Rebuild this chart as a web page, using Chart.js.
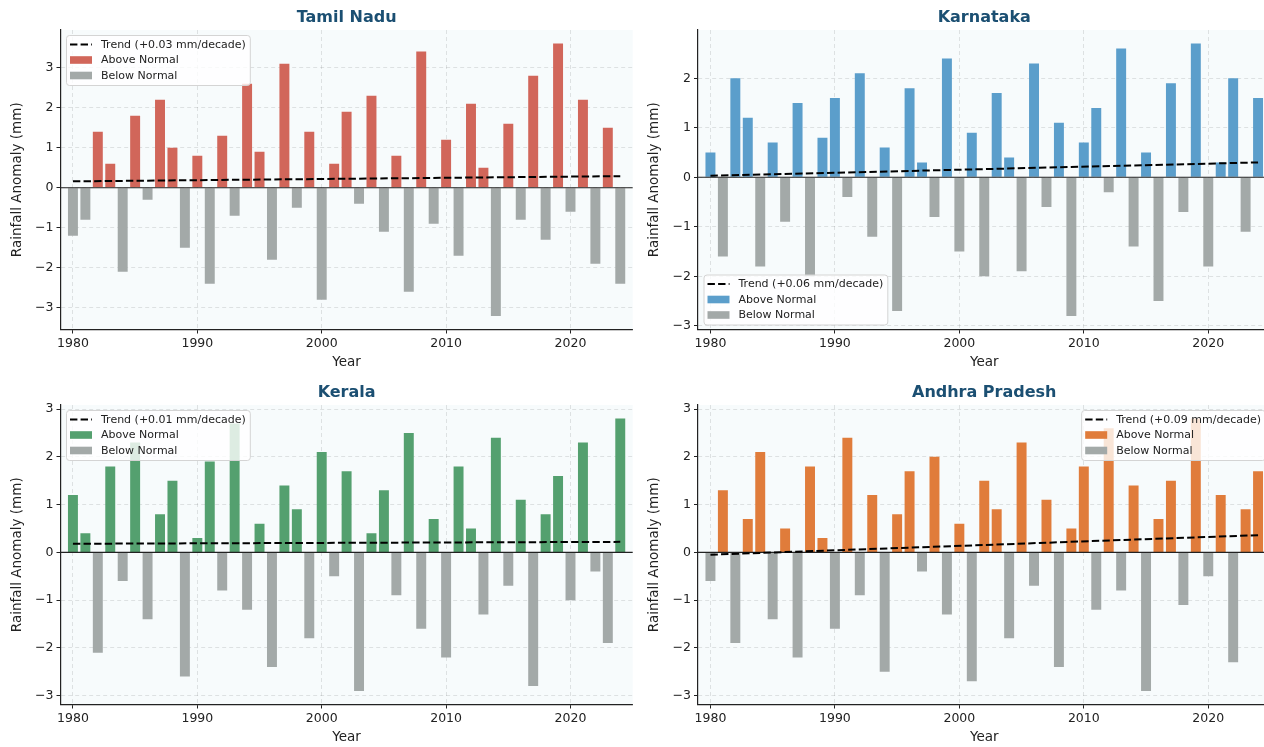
<!DOCTYPE html>
<html>
<head>
<meta charset="utf-8">
<title>Rainfall Anomaly - South India</title>
<script src="https://cdn.jsdelivr.net/npm/chart.js@4.4.1/dist/chart.umd.min.js"></script>
<style>
  html, body { margin: 0; padding: 0; background: #fff; overflow: hidden; width: 1264px; height: 747px; }
  .panel { position: absolute; width: 640px; height: 372px; }
</style>
</head>
<body>
<div class="panel" style="left:0;top:0"><canvas id="chart_TN" width="640" height="372"></canvas></div>
<div class="panel" style="left:637px;top:0"><canvas id="chart_KA" width="640" height="372"></canvas></div>
<div class="panel" style="left:0;top:375px"><canvas id="chart_KL" width="640" height="372"></canvas></div>
<div class="panel" style="left:637px;top:375px"><canvas id="chart_AP" width="640" height="372"></canvas></div>

<script>
/* ------------------
  data
-------------------*/
var years = [1980, 1981, 1982, 1983, 1984, 1985, 1986, 1987, 1988, 1989,
             1990, 1991, 1992, 1993, 1994, 1995, 1996, 1997, 1998, 1999,
             2000, 2001, 2002, 2003, 2004, 2005, 2006, 2007, 2008, 2009,
             2010, 2011, 2012, 2013, 2014, 2015, 2016, 2017, 2018, 2019,
             2020, 2021, 2022, 2023, 2024];
var xTicks = [1980, 1990, 2000, 2010, 2020];

var tamilNadu = [-1.2, -0.8, 1.4, 0.6, -2.1, 1.8, -0.3, 2.2, 1.0, -1.5,
                 0.8, -2.4, 1.3, -0.7, 2.6, 0.9, -1.8, 3.1, -0.5, 1.4,
                 -2.8, 0.6, 1.9, -0.4, 2.3, -1.1, 0.8, -2.6, 3.4, -0.9,
                 1.2, -1.7, 2.1, 0.5, -3.2, 1.6, -0.8, 2.8, -1.3, 3.6,
                 -0.6, 2.2, -1.9, 1.5, -2.4];
var karnataka = [0.5, -1.6, 2.0, 1.2, -1.8, 0.7, -0.9, 1.5, -2.0, 0.8,
                 1.6, -0.4, 2.1, -1.2, 0.6, -2.7, 1.8, 0.3, -0.8, 2.4,
                 -1.5, 0.9, -2.0, 1.7, 0.4, -1.9, 2.3, -0.6, 1.1, -2.8,
                 0.7, 1.4, -0.3, 2.6, -1.4, 0.5, -2.5, 1.9, -0.7, 2.7,
                 -1.8, 0.3, 2.0, -1.1, 1.6];
var kerala = [1.2, 0.4, -2.1, 1.8, -0.6, 2.3, -1.4, 0.8, 1.5, -2.6,
              0.3, 1.9, -0.8, 2.7, -1.2, 0.6, -2.4, 1.4, 0.9, -1.8,
              2.1, -0.5, 1.7, -2.9, 0.4, 1.3, -0.9, 2.5, -1.6, 0.7,
              -2.2, 1.8, 0.5, -1.3, 2.4, -0.7, 1.1, -2.8, 0.8, 1.6,
              -1.0, 2.3, -0.4, -1.9, 2.8];
var andhraPradesh = [-0.6, 1.3, -1.9, 0.7, 2.1, -1.4, 0.5, -2.2, 1.8, 0.3,
                     -1.6, 2.4, -0.9, 1.2, -2.5, 0.8, 1.7, -0.4, 2.0, -1.3,
                     0.6, -2.7, 1.5, 0.9, -1.8, 2.3, -0.7, 1.1, -2.4, 0.5,
                     1.8, -1.2, 2.6, -0.8, 1.4, -2.9, 0.7, 1.5, -1.1, 2.8,
                     -0.5, 1.2, -2.3, 0.9, 1.7];

// trend line ends (1980, 2024) and the slope written in the legend
var trendTN = [0.16, 0.29];
var trendKA = [0.03, 0.30];
var trendKL = [0.18, 0.22];
var trendAP = [-0.05, 0.36];
var slopeLabels = ['+0.03', '+0.06', '+0.01', '+0.09'];

var yTicksTN = [-3, -2, -1, 0, 1, 2, 3];
var yTicksKA = [-3, -2, -1, 0, 1, 2];
var yTicksKL = [-3, -2, -1, 0, 1, 2, 3];
var yTicksAP = [-3, -2, -1, 0, 1, 2, 3];

/* ------------------
  styles
-------------------*/
var FONT = "'DejaVu Sans', sans-serif";
var GRAY = '#a3a9a8';
var GRID = 'rgba(0, 0, 0, 0.13)';
var INK = '#222222';
Chart.defaults.font.family = FONT;

// background, zero line, title and the legend box drawn inside the plot
var panelDeco = {
  id: 'panelDeco',
  beforeDraw: function (chart) {
    var a = chart.chartArea, ctx = chart.ctx;
    ctx.save();
    ctx.fillStyle = '#f7fbfc';
    ctx.fillRect(a.left, a.top, a.right - a.left, a.bottom - a.top);
    ctx.restore();
  },
  beforeDatasetDraw: function (chart, args) {
    if (args.index !== 0) return;
    var a = chart.chartArea, ctx = chart.ctx;
    var y0 = chart.scales.y.getPixelForValue(0);
    ctx.save();
    ctx.strokeStyle = '#222';
    ctx.lineWidth = 1.1;
    ctx.beginPath();
    ctx.moveTo(a.left, y0);
    ctx.lineTo(a.right, y0);
    ctx.stroke();
    ctx.restore();
  },
  afterDraw: function (chart, args, opts) {
    var a = chart.chartArea, ctx = chart.ctx;
    ctx.save();
    // title
    ctx.font = 'bold 16px ' + FONT;
    ctx.fillStyle = '#1b4f72';
    ctx.textAlign = 'center';
    ctx.textBaseline = 'middle';
    ctx.fillText(opts.title, (a.left + a.right) / 2, 17.5);

    // legend
    var items = chart.data.datasets;
    ctx.font = '11px ' + FONT;
    var textW = 0;
    items.forEach(function (d) { textW = Math.max(textW, ctx.measureText(d.label).width); });
    var w = textW + 39, h = 50;
    var bx = opts.corner === 'tr' ? a.right - 5.5 - w : a.left + 5.5;
    var by = opts.corner === 'bl' ? a.bottom - 5 - h : a.top + 5;
    ctx.fillStyle = 'rgba(255, 255, 255, 0.8)';
    ctx.strokeStyle = '#d4d4d4';
    ctx.lineWidth = 1;
    ctx.beginPath();
    ctx.roundRect(bx + 0.5, by + 0.5, w, h, 3);
    ctx.fill();
    ctx.stroke();
    ctx.textAlign = 'left';
    items.forEach(function (d, i) {
      var cy = by + 9.5 + i * 15.5;
      if (d.type === 'line') {
        ctx.strokeStyle = d.borderColor;
        ctx.lineWidth = 2;
        ctx.setLineDash(d.borderDash);
        ctx.beginPath();
        ctx.moveTo(bx + 4, cy);
        ctx.lineTo(bx + 26, cy);
        ctx.stroke();
        ctx.setLineDash([]);
      } else {
        ctx.fillStyle = d.backgroundColor;
        ctx.fillRect(bx + 4, cy - 3.8, 22, 7.6);
      }
      ctx.fillStyle = INK;
      ctx.fillText(d.label, bx + 35, cy + 0.5);
    });
    ctx.restore();
  }
};

function minusSign(v) {
  return v < 0 ? '\u2212' + Math.abs(v) : String(v);
}

function makePanel(canvasId, title, values, color, trend, slope, yMin, yMax, yTicks, corner, padRight) {
  var above = [], below = [];
  years.forEach(function (yr, i) {
    if (values[i] > 0) above.push({ x: yr, y: values[i] });
    else below.push({ x: yr, y: values[i] });
  });

  return new Chart(document.getElementById(canvasId), {
    type: 'bar',
    data: {
      datasets: [
        {
          type: 'line',
          label: 'Trend (' + slope + ' mm/decade)',
          data: [{ x: years[0], y: trend[0] }, { x: years[years.length - 1], y: trend[1] }],
          borderColor: '#000000',
          borderWidth: 2,
          borderDash: [7.4, 3.2],
          pointRadius: 0,
          order: 0
        },
        {
          label: 'Above Normal',
          data: above,
          backgroundColor: color,
          grouped: false,
          barPercentage: 0.8,
          categoryPercentage: 1,
          order: 2
        },
        {
          label: 'Below Normal',
          data: below,
          backgroundColor: GRAY,
          grouped: false,
          barPercentage: 0.8,
          categoryPercentage: 1,
          order: 2
        }
      ]
    },
    options: {
      responsive: false,
      animation: false,
      devicePixelRatio: 1,
      layout: { padding: { top: 30, right: padRight, left: 0, bottom: 0 } },
      plugins: {
        legend: { display: false },
        tooltip: { enabled: false },
        panelDeco: { title: title, corner: corner }
      },
      scales: {
        x: {
          type: 'linear',
          min: 1979,
          max: 2025,
          offset: false,
          afterBuildTicks: function (s) { s.ticks = xTicks.map(function (v) { return { value: v }; }); },
          afterFit: function (s) { s.height = 42.5; },
          ticks: {
            callback: function (v) { return String(v); },
            font: { size: 12.5 },
            color: INK,
            padding: 3,
            maxRotation: 0,
            autoSkip: false
          },
          grid: { color: GRID, lineWidth: 0.8, offset: false, tickLength: 4, tickColor: INK, tickWidth: 1, tickBorderDash: [] },
          border: { display: true, color: INK, width: 1.2, dash: [4, 3] },
          title: { display: true, text: 'Year', font: { size: 13.5 }, color: INK, padding: { top: 0, bottom: 1 } }
        },
        y: {
          min: yMin,
          max: yMax,
          afterBuildTicks: function (s) { s.ticks = yTicks.map(function (v) { return { value: v }; }); },
          afterFit: function (s) { s.width = (canvasId === 'chart_TN' || canvasId === 'chart_KL') ? 60.5 : 61; },
          ticks: {
            callback: minusSign,
            font: { size: 12.5 },
            color: INK,
            padding: 3
          },
          grid: { color: GRID, lineWidth: 0.8, tickLength: 4, tickColor: INK, tickWidth: 1, tickBorderDash: [] },
          border: { display: true, color: INK, width: 1.2, dash: [4, 3] },
          title: { display: true, text: 'Rainfall Anomaly (mm)', font: { size: 13.5 }, color: INK, padding: { top: 9, bottom: 0 } }
        }
      }
    },
    plugins: [panelDeco]
  });
}

var chart_TN = makePanel('chart_TN', 'Tamil Nadu', tamilNadu, '#d1665a', trendTN, slopeLabels[0], -3.54, 3.94, yTicksTN, 'tl', 7.3);
var chart_KA = makePanel('chart_KA', 'Karnataka', karnataka, '#5b9ecb', trendKA, slopeLabels[1], -3.075, 2.975, yTicksKA, 'bl', 6.5);
var chart_KL = makePanel('chart_KL', 'Kerala', kerala, '#54a06f', trendKL, slopeLabels[2], -3.185, 3.085, yTicksKL, 'tl', 7.3);
var chart_AP = makePanel('chart_AP', 'Andhra Pradesh', andhraPradesh, '#e07c3b', trendAP, slopeLabels[3], -3.185, 3.085, yTicksAP, 'tr', 6.5);
</script>
</body>
</html>
